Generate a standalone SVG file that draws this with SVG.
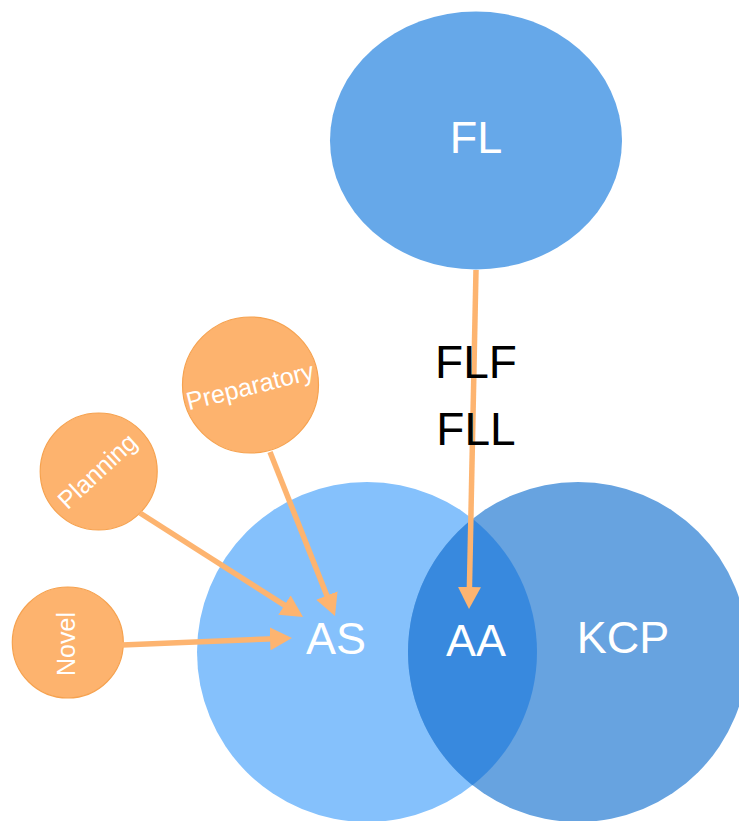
<svg xmlns="http://www.w3.org/2000/svg" width="739" height="821" viewBox="0 0 739 821">
<style>
  .big { font-family: "Liberation Sans", Arial, sans-serif; font-size: 45px; fill: #ffffff; text-anchor: middle; }
  .lbl { font-family: "Liberation Sans", Arial, sans-serif; font-size: 46px; fill: #000000; text-anchor: middle; }
  .small { font-family: "Liberation Sans", Arial, sans-serif; font-size: 25px; fill: #ffffff; text-anchor: middle; }
  .orange { fill: #FDB36E; stroke: #F6A24F; stroke-width: 1.2; }
  .arrow { stroke: #FDB470; stroke-width: 5.5; fill: none; marker-end: url(#ah); }
</style>
<defs>
  <marker id="ah" markerUnits="userSpaceOnUse" viewBox="0 0 22 23" markerWidth="22" markerHeight="23" refX="12" refY="11.5" orient="auto">
    <path d="M0,0 L22,11.5 L0,23 z" fill="#FDB470"/>
  </marker>
</defs>
<rect width="739" height="821" fill="#ffffff"/>
<g id="FL">
  <ellipse cx="476" cy="140.5" rx="146" ry="129" fill="#66A8E9"/>
  <text class="big" x="476" y="153">FL</text>
</g>
<g id="AS">
  <circle cx="367" cy="652" r="170" fill="#85C1FC"/>
</g>
<g id="KCP">
  <circle cx="578" cy="652" r="170" fill="#67A3E0"/>
</g>
<g id="AA">
  <path d="M472.5,518.7 A170,170 0 0,1 472.5,785.3 A170,170 0 0,1 472.5,518.7 z" fill="#3889DE"/>
</g>
<text class="big" x="336" y="654">AS</text>
<text class="big" x="476" y="656">AA</text>
<text class="big" x="623" y="653">KCP</text>
<g id="Preparatory">
  <circle class="orange" cx="250.5" cy="385" r="68"/>
  <text class="small" x="250" y="386" dy="0.35em" transform="rotate(-14 250 386)">Preparatory</text>
</g>
<g id="Planning">
  <circle class="orange" cx="98.7" cy="471.5" r="58.5"/>
  <text class="small" x="97" y="471" dy="0.35em" transform="rotate(-43 97 471)">Planning</text>
</g>
<g id="Novel">
  <circle class="orange" cx="67.8" cy="642.5" r="55.5"/>
  <text class="small" x="66" y="644" dy="0.35em" transform="rotate(-90 66 644)">Novel</text>
</g>
<g id="connectors">
  <line class="arrow" x1="476" y1="270" x2="469.2" y2="599"/>
  <line class="arrow" x1="270" y1="452" x2="331.3" y2="606.7"/>
  <line class="arrow" x1="140" y1="513" x2="294.6" y2="611.6"/>
  <line class="arrow" x1="122" y1="645" x2="282" y2="638.4"/>
</g>
<text class="lbl" x="476" y="378">FLF</text>
<text class="lbl" x="476" y="445">FLL</text>
</svg>
